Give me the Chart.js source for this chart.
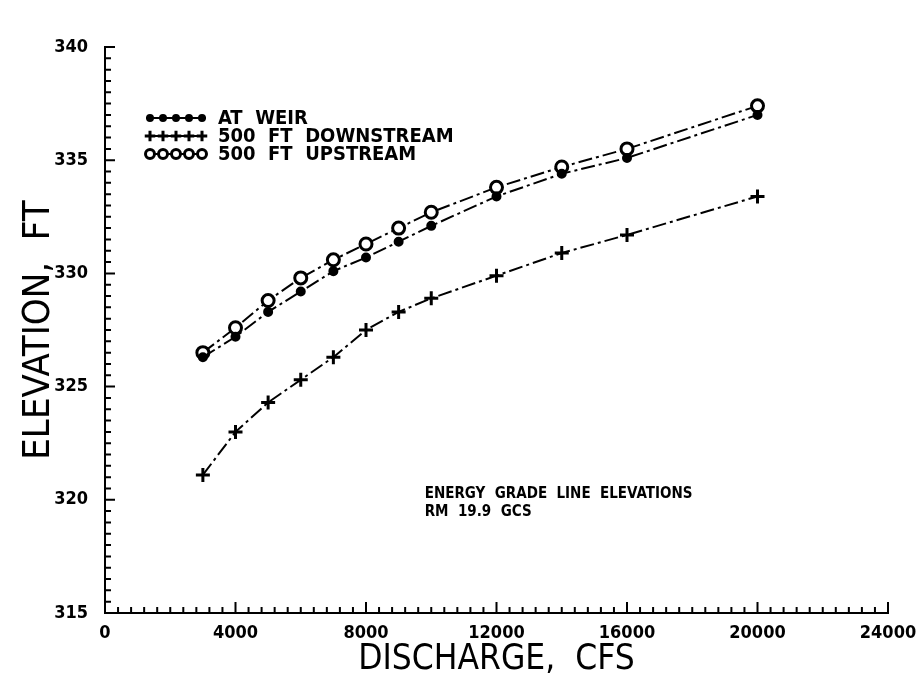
<!DOCTYPE html>
<html>
<head>
<meta charset="utf-8">
<title>Energy grade line elevations</title>
<script src="https://cdn.jsdelivr.net/npm/chart.js@4.4.0/dist/chart.umd.min.js"></script>
<style>
  html, body { margin: 0; padding: 0; background: #fff; }
  #wrap { width: 923px; height: 681px; }
</style>
</head>
<body>
<div id="wrap"><canvas id="egl"></canvas></div>
<script>
// discharge in cfs, elevations in ft
var discharge  = [3000, 4000, 5000, 6000, 7000, 8000, 9000, 10000, 12000, 14000, 16000, 20000];
var atWeir     = [326.3, 327.2, 328.3, 329.2, 330.1, 330.7, 331.4, 332.1, 333.4, 334.4, 335.1, 337.0];
var downstream = [321.1, 323.0, 324.3, 325.3, 326.3, 327.5, 328.3, 328.9, 329.9, 330.9, 331.7, 333.4];
var upstream   = [326.5, 327.6, 328.8, 329.8, 330.6, 331.3, 332.0, 332.7, 333.8, 334.7, 335.5, 337.4];

var seriesNames = ['AT  WEIR', '500  FT  DOWNSTREAM', '500  FT  UPSTREAM'];
var noteLines = ['ENERGY  GRADE  LINE  ELEVATIONS', 'RM  19.9  GCS'];

var labelFont = "'DejaVu Sans Condensed', 'Liberation Sans Narrow', sans-serif";
var titleFont = "'Liberation Sans Narrow', 'DejaVu Sans Condensed', sans-serif";

function pairs(ys) {
  return discharge.map(function (q, i) { return { x: q, y: ys[i] }; });
}

function series(label, ys, style) {
  return Object.assign({
    label: label,
    data: pairs(ys),
    borderColor: '#000',
    borderWidth: 2,
    borderDash: [14, 4, 3, 4],
    tension: 0,
    fill: false
  }, style);
}

// inward minor/major ticks on both axes
var axisTicks = {
  id: 'axisTicks',
  afterDraw: function (chart) {
    var ctx = chart.ctx, xs = chart.scales.x, ys = chart.scales.y;
    ctx.save();
    ctx.strokeStyle = '#000';
    ctx.lineWidth = 2;
    ctx.beginPath();
    for (var i = 0; i <= 50; i++) {
      var py = ys.getPixelForValue(315 + i * 0.5);
      var len = (i % 10 === 0) ? 10 : 6;
      ctx.moveTo(xs.left, py);
      ctx.lineTo(xs.left + len, py);
    }
    for (var j = 0; j <= 60; j++) {
      var px = xs.getPixelForValue(j * 400);
      var l = (j % 10 === 0) ? 11 : 6;
      ctx.moveTo(px, ys.bottom);
      ctx.lineTo(px, ys.bottom - l);
    }
    ctx.stroke();
    ctx.restore();
  }
};

// legend with five markers per sample line, plus the note text
var sampleLegend = {
  id: 'sampleLegend',
  afterDraw: function (chart) {
    var ctx = chart.ctx;
    ctx.save();
    chart.data.datasets.forEach(function (ds, k) {
      var y = 118 + k * 18;
      ctx.strokeStyle = '#000';
      ctx.lineWidth = 2;
      ctx.setLineDash([]);
      ctx.beginPath();
      ctx.moveTo(146, y);
      ctx.lineTo(206, y);
      ctx.stroke();
      for (var m = 0; m < 5; m++) {
        ctx.fillStyle = ds.pointBackgroundColor;
        ctx.strokeStyle = '#000';
        ctx.lineWidth = ds.pointBorderWidth;
        Chart.helpers.drawPoint(ctx, {
          pointStyle: ds.pointStyle,
          radius: ds.pointRadius * 0.75,
          borderWidth: ds.pointBorderWidth,
          rotation: 0
        }, 150 + m * 13, y);
      }
      ctx.fillStyle = '#000';
      ctx.font = 'bold 20px ' + labelFont;
      ctx.textBaseline = 'middle';
      ctx.textAlign = 'left';
      ctx.fillText(ds.label, 218, y + 1);
    });

    var xs = chart.scales.x, ys = chart.scales.y;
    var nx = xs.getPixelForValue(9800);
    var ny = ys.getPixelForValue(320.25);
    ctx.font = 'bold 15px ' + labelFont;
    noteLines.forEach(function (t, i) {
      ctx.fillText(t, nx, ny + i * 18);
    });
    ctx.restore();
  }
};

var ctx = document.getElementById('egl').getContext('2d');
var chart = new Chart(ctx, {
  type: 'line',
  data: {
    datasets: [
      series(seriesNames[0], atWeir, {
        pointStyle: 'circle', pointRadius: 4, pointBorderWidth: 2,
        pointBackgroundColor: '#000', pointBorderColor: '#000'
      }),
      series(seriesNames[1], downstream, {
        pointStyle: 'cross', pointRadius: 7, pointBorderWidth: 3,
        pointBackgroundColor: '#000', pointBorderColor: '#000'
      }),
      series(seriesNames[2], upstream, {
        pointStyle: 'circle', pointRadius: 6, pointBorderWidth: 3,
        pointBackgroundColor: '#fff', pointBorderColor: '#000'
      })
    ]
  },
  options: {
    responsive: true,
    maintainAspectRatio: false,
    animation: false,
    layout: { padding: { top: 47, right: 35, left: 16, bottom: 0 } },
    plugins: {
      legend: { display: false },
      tooltip: { enabled: false }
    },
    scales: {
      x: {
        type: 'linear',
        min: 0,
        max: 24000,
        afterFit: function (scale) { scale.height = 68; },
        grid: { display: false },
        border: { display: true, color: '#000', width: 2 },
        ticks: {
          stepSize: 4000,
          color: '#000',
          padding: 2,
          maxRotation: 0,
          font: { family: labelFont, size: 18, weight: 'bold' },
          callback: function (v) { return String(v); }
        },
        title: {
          display: true,
          text: 'DISCHARGE,  CFS',
          color: '#000',
          padding: { top: 0, bottom: 0 },
          font: { family: titleFont, size: 35 }
        }
      },
      y: {
        min: 315,
        max: 340,
        afterFit: function (scale) { scale.width = 89; },
        grid: { display: false },
        border: { display: true, color: '#000', width: 2 },
        ticks: {
          stepSize: 5,
          color: '#000',
          padding: 9,
          font: { family: labelFont, size: 18, weight: 'bold' }
        },
        title: {
          display: true,
          text: 'ELEVATION,  FT',
          color: '#000',
          padding: { top: 0, bottom: 0 },
          font: { family: titleFont, size: 38 }
        }
      }
    }
  },
  plugins: [axisTicks, sampleLegend]
});
</script>
</body>
</html>
